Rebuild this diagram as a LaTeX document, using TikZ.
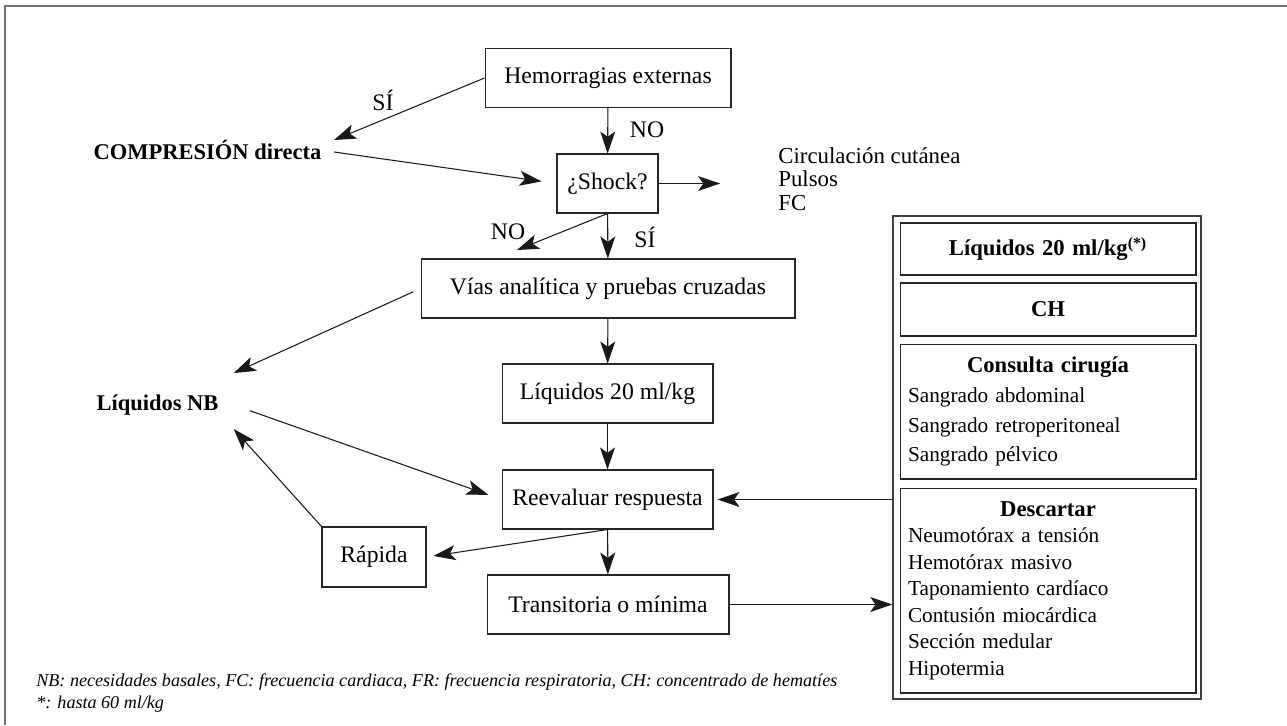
\documentclass[tikz,border=0pt]{standalone}
\usepackage{fontspec}
\setmainfont{Liberation Serif}
\usetikzlibrary{arrows.meta}

\tikzset{
  frame/.style={draw=black!55, line width=1pt},
  flow/.style={draw=black!85, line width=0.6pt, minimum height=1.18cm, inner sep=0pt,
    font=\fontsize{13.5}{16}\selectfont},
  arr/.style={-{Stealth[length=12.5pt,width=8.5pt,inset=3pt]}, draw=black!90, line width=0.6pt},
  lbl/.style={font=\fontsize{13.5}{16}\selectfont},
  keylbl/.style={font=\fontsize{12.8}{15}\selectfont\bfseries, inner sep=0.25cm},
  panel/.style={draw=black!75, line width=0.9pt},
  inbox/.style={draw=black!85, line width=0.6pt, text width=5.6cm, inner xsep=0.16cm,
    inner ysep=0pt, font=\fontsize{12.1}{17}\selectfont},
  note/.style={font=\fontsize{10.3}{12}\selectfont\itshape, inner sep=0pt, anchor=west}
}

\begin{document}
\begin{tikzpicture}[x=0.02cm,y=-0.02cm]
    \useasboundingbox (0,0) rectangle (1287,725);
    \draw[frame] (5,725) -- (5,6) -- (1287,6);
    % central column
    \node[flow, minimum width=4.92cm] (hem) at (608,78) {Hemorragias externas};
    \node[flow, minimum width=2.02cm] (shock) at (607.5,183.5) {¿Shock?};
    \node[flow, minimum width=7.48cm] (vias) at (608,288.5) {Vías analítica y pruebas cruzadas};
    \node[flow, minimum width=4.22cm] (liq) at (607.5,393.5) {Líquidos 20 ml/kg};
    \node[flow, minimum width=4.22cm] (reev) at (607.5,499.5) {Reevaluar respuesta};
    \node[flow, minimum width=4.84cm] (trans) at (608,604.5) {Transitoria o mínima};
    \node[flow, minimum width=2.08cm, minimum height=1.2cm] (rap) at (374,557) {Rápida};
    % left column
    \node[keylbl] (comp) at (207.5,150) {COMPRESIÓN directa};
    \node[keylbl, inner sep=0.3cm] (liqnb) at (157.5,405) {Líquidos NB};
    % answers
    \node[lbl] (si1) at (383,100) {SÍ};
    \node[lbl] (no1) at (647,130) {NO};
    \node[lbl] (no2) at (508,232) {NO};
    \node[lbl] (si2) at (645,237) {SÍ};
    \coordinate (noend) at (517,250);
    \node[lbl, align=left, anchor=west, inner sep=0pt, font=\fontsize{13}{13.4}\selectfont]
        (signs) at (778,179) {Circulación cutánea\\Pulsos\\FC};
    % right panel
    \node[panel, minimum width=6.16cm, minimum height=9.66cm] (rpanel) at (1047,457.5) {};
    \node[inbox, align=center, minimum height=1.04cm, font=\fontsize{12.9}{15}\selectfont\bfseries]
        (liqs) at (1048,249) {Líquidos 20 ml/kg\textsuperscript{(*)}};
    \node[inbox, align=center, minimum height=1.06cm, font=\fontsize{12.9}{15}\selectfont\bfseries]
        (ch) at (1048,309.5) {CH};
    \node[inbox, align=left, minimum height=2.7cm] (consulta) at (1048,411.5)
        {{\centering\fontsize{12.9}{17}\selectfont\bfseries Consulta cirugía\par}
         Sangrado abdominal\\Sangrado retroperitoneal\\Sangrado pélvico};
    \node[inbox, align=left, minimum height=4.1cm, font=\fontsize{12.1}{15.1}\selectfont]
        (descartar) at (1048,590.5)
        {{\centering\fontsize{12.9}{15.1}\selectfont\bfseries Descartar\par}
         Neumotórax a tensión\\Hemotórax masivo\\Taponamiento cardíaco\\
         Contusión miocárdica\\Sección medular\\Hipotermia};
    % footnotes
    \node[note] (nb) at (36,682) {NB: necesidades basales, FC: frecuencia cardiaca, FR: frecuencia respiratoria, CH: concentrado de hematíes};
    \node[note] (upto) at (36,704) {*: hasta 60 ml/kg};
    % connectors
    \draw[arr] (hem.west) -- ([yshift=0.2cm]comp.east);
    \draw[arr, shorten >=0.3cm] ([yshift=-0.04cm]comp.east) -- (shock.west);
    \draw[arr] (hem) -- (shock);
    \draw[arr, shorten >=1.16cm] (shock.east) -- (shock.east -| signs.west);
    \draw[arr] (shock.south) -- (noend);
    \draw[arr] (shock) -- (vias);
    \draw[arr, shorten <=0.16cm] (vias.west) -- ([yshift=0.64cm]liqnb.east);
    \draw[arr] (vias) -- (liq);
    \draw[arr] (liq) -- (reev);
    \draw[arr, shorten <=0.34cm, shorten >=0.28cm] (liqnb.east) -- (reev.west);
    \draw[arr, shorten >=0.14cm] (reev.south) -- (rap.east);
    \draw[arr] (reev) -- (trans);
    \draw[arr] (rap.north west) -- ([yshift=-0.48cm]liqnb.east);
    \draw[arr, shorten >=0.08cm] (reev.east -| rpanel.west) -- (reev.east);
    \draw[arr] (trans.east) -- (trans.east -| rpanel.west);
\end{tikzpicture}
\end{document}
